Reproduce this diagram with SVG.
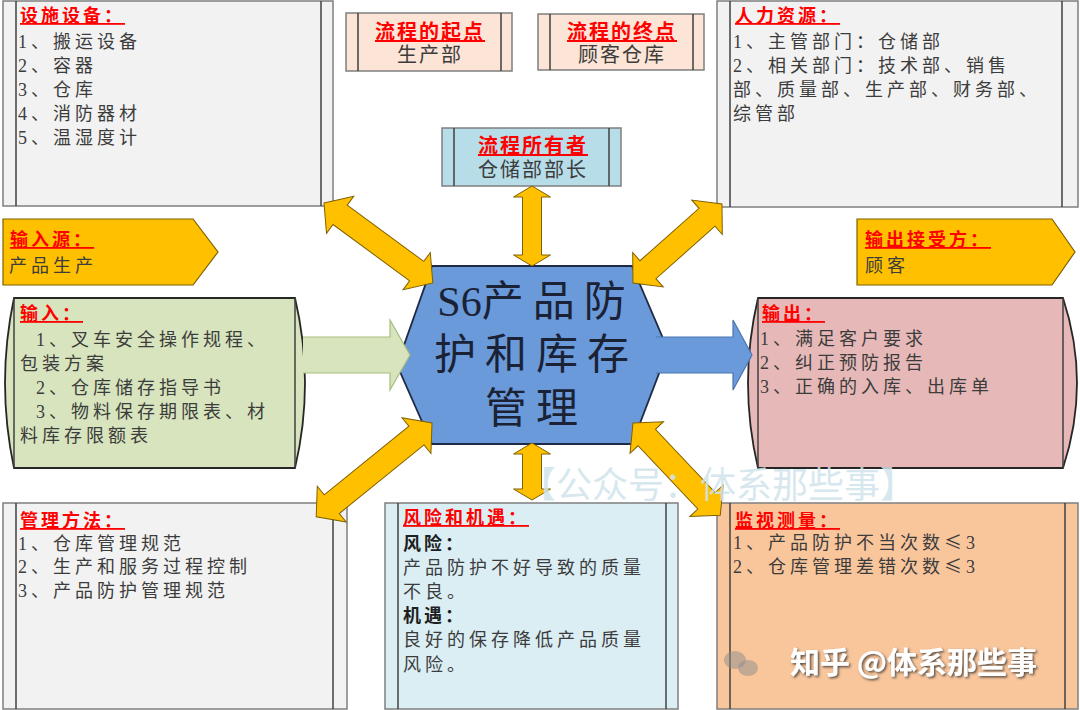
<svg xmlns="http://www.w3.org/2000/svg" width="1080" height="710" viewBox="0 0 1080 710">
<defs>
<style>
text { font-family: "Liberation Serif", "Noto Sans CJK SC", serif; }
.t { font-size: 18px; fill: #3c3c3c; letter-spacing: 4px; }
.h { font-size: 18px; fill: #ff0000; font-weight: bold; letter-spacing: 3px; text-decoration: underline; }
.b { font-size: 18px; fill: #1e1e1e; font-weight: bold; letter-spacing: 3px; }
.ct { font-size: 20px; fill: #3c3c3c; letter-spacing: 2px; text-anchor: middle; }
.ch { font-size: 20px; fill: #ff0000; font-weight: bold; letter-spacing: 2px; text-anchor: middle; text-decoration: underline; }
.box { stroke: #7f7f7f; stroke-width: 1.5; }
.inner { stroke: #404040; stroke-width: 1.5; fill: none; }
.ya { fill: #ffc000; stroke: #7f6000; stroke-width: 1; }
.pent { fill: #ffc000; stroke: #7f6000; stroke-width: 1.2; }
.title { font-size: 42px; fill: #1b2236; letter-spacing: 9px; text-anchor: middle; }
.cjk { font-family: "Noto Sans CJK SC", sans-serif; }
</style>
<filter id="shadow" x="-5%" y="-20%" width="110%" height="140%">
  <feDropShadow dx="1.5" dy="1.5" stdDeviation="0.8" flood-color="#333333" flood-opacity="0.8"/>
</filter>
</defs>
<rect width="1080" height="710" fill="#ffffff"/>

<g id="node-facilities">
  <rect class="box" x="3" y="1" width="330" height="205" fill="#f2f2f2"/>
  <line class="inner" x1="16" y1="1" x2="16" y2="206"/>
  <line class="inner" x1="321" y1="1" x2="321" y2="206"/>
  <text class="h" x="20" y="22">设施设备：</text>
  <text class="t" x="18" y="48">1、搬运设备</text>
  <text class="t" x="18" y="72">2、容器</text>
  <text class="t" x="18" y="96">3、仓库</text>
  <text class="t" x="18" y="120">4、消防器材</text>
  <text class="t" x="18" y="144">5、温湿度计</text>
</g>

<g id="node-start">
  <rect x="346" y="13" width="166" height="58" fill="#fce4d6" stroke="#7f7f7f" stroke-width="1.5"/>
  <line class="inner" x1="358" y1="13" x2="358" y2="71"/>
  <line class="inner" x1="501" y1="13" x2="501" y2="71"/>
  <text class="ch" x="430" y="39">流程的起点</text>
  <text class="ct" x="430" y="62">生产部</text>
</g>

<g id="node-end">
  <rect x="538" y="14" width="166" height="56" fill="#fce4d6" stroke="#7f7f7f" stroke-width="1.5"/>
  <line class="inner" x1="550" y1="14" x2="550" y2="70"/>
  <line class="inner" x1="693" y1="14" x2="693" y2="70"/>
  <text class="ch" x="622" y="39">流程的终点</text>
  <text class="ct" x="622" y="62">顾客仓库</text>
</g>

<g id="node-owner">
  <rect x="442" y="128" width="179" height="58" fill="#b7dde8" stroke="#7f7f7f" stroke-width="1.5"/>
  <line class="inner" x1="454" y1="128" x2="454" y2="186"/>
  <line class="inner" x1="609" y1="128" x2="609" y2="186"/>
  <text class="ch" x="533" y="153">流程所有者</text>
  <text class="ct" x="533" y="177">仓储部部长</text>
</g>

<g id="node-hr">
  <rect class="box" x="717" y="1" width="361" height="206" fill="#f2f2f2"/>
  <line class="inner" x1="730" y1="1" x2="730" y2="207"/>
  <line class="inner" x1="1062" y1="1" x2="1062" y2="207"/>
  <text class="h" x="735" y="22">人力资源：</text>
  <text class="t" x="733" y="48">1、主管部门：仓储部</text>
  <text class="t" x="733" y="72">2、相关部门：技术部、销售</text>
  <text class="t" x="733" y="96">部、质量部、生产部、财务部、</text>
  <text class="t" x="733" y="120">综管部</text>
</g>

<g id="node-input-source">
  <polygon class="pent" points="3,219 193,219 218,252 193,285 3,285"/>
  <text class="h" x="10" y="246">输入源：</text>
  <text class="t" x="9" y="272">产品生产</text>
</g>

<g id="node-output-receiver">
  <polygon class="pent" points="857,219 1052,219 1075,252 1052,285 857,285"/>
  <text class="h" x="865" y="246">输出接受方：</text>
  <text class="t" x="865" y="272">顾客</text>
</g>

<g id="node-input">
  <path d="M14,298 L295,298 Q315,383 295,468 L14,468 Q-4,383 14,298 Z" fill="#d7e4bd" stroke="#262626" stroke-width="1.8"/>
  <line class="inner" x1="14" y1="298" x2="14" y2="468" stroke="#262626"/>
  <line class="inner" x1="295" y1="298" x2="295" y2="468" stroke="#262626"/>
  <text class="h" x="20" y="320">输入：</text>
  <text class="t" x="36" y="346">1、叉车安全操作规程、</text>
  <text class="t" x="20" y="370">包装方案</text>
  <text class="t" x="36" y="394">2、仓库储存指导书</text>
  <text class="t" x="36" y="418">3、物料保存期限表、材</text>
  <text class="t" x="20" y="442">料库存限额表</text>
</g>

<g id="node-process">
  <polygon points="432,266 632,266 668,350 632,444 432,444 397,365" fill="#6a9ad9" stroke="#1f2a44" stroke-width="1.8"/>
  <text class="title" x="536" y="316"><tspan letter-spacing="0">S6</tspan>产品防</text>
  <text class="title" x="536" y="369">护和库存</text>
  <text class="title" x="536" y="423">管理</text>
</g>

<g id="node-output">
  <path d="M758,298 L1063,298 Q1091,383 1063,468 L758,468 Q738,383 758,298 Z" fill="#e6b9b8" stroke="#262626" stroke-width="1.8"/>
  <line class="inner" x1="758" y1="298" x2="758" y2="468" stroke="#262626"/>
  <line class="inner" x1="1063" y1="298" x2="1063" y2="468" stroke="#262626"/>
  <text class="h" x="762" y="320">输出：</text>
  <text class="t" x="760" y="345">1、满足客户要求</text>
  <text class="t" x="760" y="369">2、纠正预防报告</text>
  <text class="t" x="760" y="393">3、正确的入库、出库单</text>
</g>

<g id="node-method">
  <rect class="box" x="3" y="503" width="344" height="206" fill="#f2f2f2"/>
  <line class="inner" x1="16" y1="503" x2="16" y2="709"/>
  <line class="inner" x1="333" y1="503" x2="333" y2="709"/>
  <text class="h" x="20" y="527">管理方法：</text>
  <text class="t" x="18" y="550">1、仓库管理规范</text>
  <text class="t" x="18" y="573">2、生产和服务过程控制</text>
  <text class="t" x="18" y="597">3、产品防护管理规范</text>
</g>

<g id="node-risk">
  <rect class="box" x="385" y="503" width="293" height="206" fill="#dbeef4"/>
  <line class="inner" x1="398" y1="503" x2="398" y2="709"/>
  <line class="inner" x1="666" y1="503" x2="666" y2="709"/>
  <text class="h" x="403" y="524">风险和机遇：</text>
  <text class="b" x="403" y="550">风险：</text>
  <text class="t" x="403" y="574">产品防护不好导致的质量</text>
  <text class="t" x="403" y="598">不良。</text>
  <text class="b" x="403" y="622">机遇：</text>
  <text class="t" x="403" y="646">良好的保存降低产品质量</text>
  <text class="t" x="403" y="671">风险。</text>
</g>

<g id="node-measure">
  <rect class="box" x="717" y="503" width="361" height="206" fill="#f9c69c" stroke="#595959"/>
  <line class="inner" x1="730" y1="503" x2="730" y2="709"/>
  <line class="inner" x1="1065" y1="503" x2="1065" y2="709"/>
  <text class="h" x="735" y="527">监视测量：</text>
  <text class="t" x="733" y="549">1、产品防护不当次数<tspan class="cjk">≤</tspan>3</text>
  <text class="t" x="733" y="573">2、仓库管理差错次数<tspan class="cjk">≤</tspan>3</text>
</g>

<g id="connectors">
  <path d="M303,337 L390,337 L390,320 L410,355 L390,390 L390,373 L303,373" fill="#d7e4bd" stroke="#a7bd7c" stroke-width="1.2"/>
  <path d="M656,337 L733,337 L733,320 L752,355 L733,390 L733,373 L656,373" fill="#6a9ad9" stroke="#4a76b4" stroke-width="1.2"/>
  <polygon class="ya" transform="translate(324,203) rotate(36.3)" points="0,0 20,-23 20,-12 115,-12 115,-23 135,0 115,23 115,12 20,12 20,23"/>
  <polygon class="ya" transform="translate(633,283) rotate(-41.6)" points="0,0 20,-23 20,-12 99,-12 99,-23 119,0 99,23 99,12 20,12 20,23"/>
  <polygon class="ya" transform="translate(432,423) rotate(141)" points="0,0 20,-23 20,-12 129,-12 129,-23 149,0 129,23 129,12 20,12 20,23"/>
  <polygon class="ya" transform="translate(633,423) rotate(46.6)" points="0,0 20,-23 20,-12 107,-12 107,-23 127,0 107,23 107,12 20,12 20,23"/>
  <polygon class="ya" points="532,186 550.5,197 541.5,197 541.5,255 550.5,255 532,266 513.5,255 522.5,255 522.5,197 513.5,197"/>
  <polygon class="ya" points="532,443 550.5,454 541.5,454 541.5,489 550.5,489 532,500 513.5,489 522.5,489 522.5,454 513.5,454"/>
</g>

<g id="watermark">
  <text x="520" y="498" font-size="36" fill="#cfe4ec" fill-opacity="0.85" class="cjk">【公众号：体系那些事】</text>
  <ellipse cx="735" cy="660" rx="11" ry="9" fill="#8c8c8c" fill-opacity="0.5"/>
  <ellipse cx="748" cy="668" rx="10" ry="8" fill="#8c8c8c" fill-opacity="0.5"/>
  <text x="790" y="673" font-size="30" fill="#ffffff" filter="url(#shadow)" style="font-family:'Noto Sans CJK SC',sans-serif;font-weight:bold">知乎 @体系那些事</text>
</g>
</svg>
